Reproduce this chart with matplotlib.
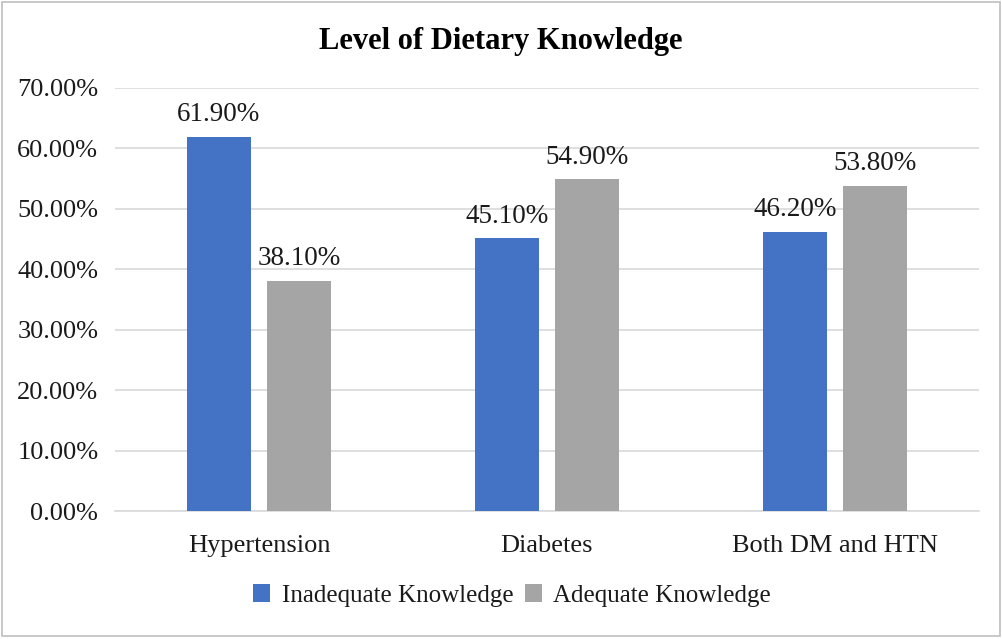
import numpy as np
import matplotlib.pyplot as plt
from matplotlib.patches import Rectangle

categories = ['Hypertension', 'Diabetes', 'Both DM and HTN']
inadequate = [61.9, 45.1, 46.2]
adequate = [38.1, 54.9, 53.8]
series_names = ['Inadequate Knowledge', 'Adequate Knowledge']
yticks = np.arange(0, 71, 10)


def main():
    plt.rcParams['font.family'] = ['Liberation Serif', 'DejaVu Serif']
    fig = plt.figure(figsize=(10.02, 6.39), dpi=100)
    ax = fig.add_axes([0.1148, 0.2003, 0.862, 0.662])

    x = np.arange(len(categories))
    w = 0.222
    off = 0.139
    b1 = ax.bar(x - off, inadequate, w, color='#4472C4', label=series_names[0], zorder=3)
    b2 = ax.bar(x + off, adequate, w, color='#A5A5A5', label=series_names[1], zorder=3)
    for bars in (b1, b2):
        ax.bar_label(bars, labels=[f'{v:.2f}%' for v in bars.datavalues],
                     padding=7, fontsize=19.5, color='#1a1a1a')

    ax.set_xlim(-0.5, 2.5)
    ax.set_ylim(0, 70)
    ax.set_yticks(yticks)
    ax.set_yticklabels([f'{v:.2f}%' for v in yticks], fontsize=19, color='#1a1a1a')
    ax.set_xticks(x)
    ax.set_xticklabels(categories, fontsize=19, color='#1a1a1a')
    ax.tick_params(length=0, pad=17)
    ax.tick_params(axis='y', pad=12)
    ax.grid(axis='y', color='#D9D9D9', lw=1.2, zorder=0)
    for s in ['top', 'right', 'left']:
        ax.spines[s].set_visible(False)
    ax.spines['bottom'].set_color('#D9D9D9')
    ax.spines['bottom'].set_linewidth(1.2)

    fig.suptitle('Level of Dietary Knowledge', y=0.958, fontsize=22,
                 fontweight='bold', color='black')
    fig.legend(loc='center', bbox_to_anchor=(0.511, 0.068), ncol=2, frameon=False,
               fontsize=18, handlelength=0.7, handleheight=0.7, handletextpad=0.45,
               columnspacing=0.45, labelcolor='#1a1a1a')

    fig.patches.append(Rectangle((0.002, 0.004), 0.996, 0.993, transform=fig.transFigure,
                                 fill=False, edgecolor='#BFBFBF', lw=1.2))
    fig.savefig('out.png', dpi=100)


if __name__ == '__main__':
    main()
